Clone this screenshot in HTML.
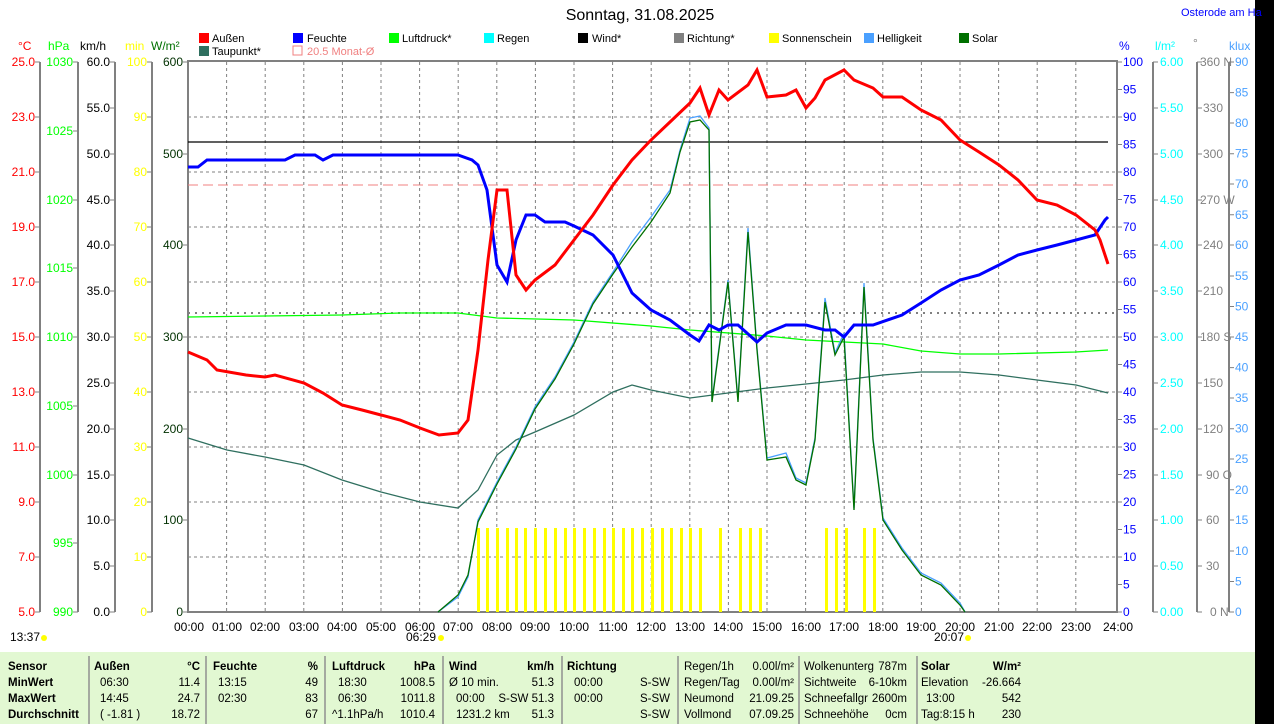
<!DOCTYPE html>
<html><head><meta charset="utf-8"><style>
body{margin:0;width:1274px;height:724px;overflow:hidden;background:#fff;font-family:"Liberation Sans",sans-serif}
svg{position:absolute;left:0;top:0}
text{font-family:"Liberation Sans",sans-serif;font-size:12px}
.tb text{font-size:11.5px}
</style></head><body>
<svg width="1274" height="724" viewBox="0 0 1274 724">
<rect x="1255" y="0" width="19" height="724" fill="#000"/>
<rect x="0" y="652" width="1255" height="72" fill="#e2f8d2"/>
<text x="640" y="20" text-anchor="middle" style="font-size:16px">Sonntag, 31.08.2025</text>
<text x="1181" y="16" fill="#0000ff" style="font-size:11px">Osterode am Ha</text>
<g>
<rect x="199" y="33" width="10" height="10" fill="#f00"/><text x="212" y="42" style="font-size:11px">Außen</text>
<rect x="293" y="33" width="10" height="10" fill="#00f"/><text x="307" y="42" style="font-size:11px">Feuchte</text>
<rect x="389" y="33" width="10" height="10" fill="#0f0"/><text x="402" y="42" style="font-size:11px">Luftdruck*</text>
<rect x="484" y="33" width="10" height="10" fill="#0ff"/><text x="497" y="42" style="font-size:11px">Regen</text>
<rect x="578" y="33" width="10" height="10" fill="#000"/><text x="592" y="42" style="font-size:11px">Wind*</text>
<rect x="674" y="33" width="10" height="10" fill="#808080"/><text x="687" y="42" style="font-size:11px">Richtung*</text>
<rect x="769" y="33" width="10" height="10" fill="#ff0"/><text x="782" y="42" style="font-size:11px">Sonnenschein</text>
<rect x="864" y="33" width="10" height="10" fill="#4aa0ff"/><text x="877" y="42" style="font-size:11px">Helligkeit</text>
<rect x="959" y="33" width="10" height="10" fill="#007000"/><text x="972" y="42" style="font-size:11px">Solar</text>
<rect x="199" y="46" width="10" height="10" fill="#2f6f5f"/><text x="212" y="55" style="font-size:11px">Taupunkt*</text>
<rect x="293" y="46" width="9" height="9" fill="none" stroke="#f08080"/><text x="307" y="55" fill="#f08080" style="font-size:11px">20.5 Monat-Ø</text>
</g>
<text x="18" y="50" fill="#f00">°C</text>
<text x="48" y="50" fill="#0f0">hPa</text>
<text x="80" y="50" fill="#000">km/h</text>
<text x="125" y="50" fill="#ff0">min</text>
<text x="151" y="50" fill="#007000">W/m²</text>
<text x="1119" y="50" fill="#00f">%</text>
<text x="1155" y="50" fill="#0ff">l/m²</text>
<text x="1193" y="47" fill="#808080">°</text>
<text x="1229" y="50" fill="#4aa0ff">klux</text>
<g stroke="#808080" stroke-dasharray="3,3" stroke-width="1">
<line x1="188" y1="117" x2="1116" y2="117"/><line x1="188" y1="172" x2="1116" y2="172"/><line x1="188" y1="227" x2="1116" y2="227"/><line x1="188" y1="282" x2="1116" y2="282"/><line x1="188" y1="337" x2="1116" y2="337"/><line x1="188" y1="392" x2="1116" y2="392"/><line x1="188" y1="447" x2="1116" y2="447"/><line x1="188" y1="502" x2="1116" y2="502"/><line x1="188" y1="557" x2="1116" y2="557"/>
<line x1="226.6" y1="62" x2="226.6" y2="612"/><line x1="265.2" y1="62" x2="265.2" y2="612"/><line x1="303.8" y1="62" x2="303.8" y2="612"/><line x1="342.4" y1="62" x2="342.4" y2="612"/><line x1="381" y1="62" x2="381" y2="612"/><line x1="419.6" y1="62" x2="419.6" y2="612"/><line x1="458.2" y1="62" x2="458.2" y2="612"/><line x1="496.8" y1="62" x2="496.8" y2="612"/><line x1="535.4" y1="62" x2="535.4" y2="612"/><line x1="574" y1="62" x2="574" y2="612"/><line x1="612.6" y1="62" x2="612.6" y2="612"/><line x1="651.2" y1="62" x2="651.2" y2="612"/><line x1="689.8" y1="62" x2="689.8" y2="612"/><line x1="728.4" y1="62" x2="728.4" y2="612"/><line x1="767" y1="62" x2="767" y2="612"/><line x1="805.6" y1="62" x2="805.6" y2="612"/><line x1="844.2" y1="62" x2="844.2" y2="612"/><line x1="882.8" y1="62" x2="882.8" y2="612"/><line x1="921.4" y1="62" x2="921.4" y2="612"/><line x1="960" y1="62" x2="960" y2="612"/><line x1="998.6" y1="62" x2="998.6" y2="612"/><line x1="1037.2" y1="62" x2="1037.2" y2="612"/><line x1="1075.8" y1="62" x2="1075.8" y2="612"/>
</g>
<rect x="188" y="61" width="929" height="551" fill="none" stroke="#808080" stroke-width="2"/>
<g stroke="#808080" stroke-width="2">
<line x1="40" y1="62" x2="40" y2="612"/><line x1="78" y1="62" x2="78" y2="612"/><line x1="115" y1="62" x2="115" y2="612"/><line x1="152" y1="62" x2="152" y2="612"/>
<line x1="1153" y1="62" x2="1153" y2="612"/><line x1="1197" y1="62" x2="1197" y2="612"/><line x1="1229" y1="62" x2="1229" y2="612"/>
</g>
<g fill="#f00" text-anchor="end">
<text x="35" y="66">25.0</text><text x="35" y="121">23.0</text><text x="35" y="176">21.0</text><text x="35" y="231">19.0</text><text x="35" y="286">17.0</text><text x="35" y="341">15.0</text><text x="35" y="396">13.0</text><text x="35" y="451">11.0</text><text x="35" y="506">9.0</text><text x="35" y="561">7.0</text><text x="35" y="616">5.0</text>
</g>
<g stroke="#808080"><path d="M35 62h5M35 117h5M35 172h5M35 227h5M35 282h5M35 337h5M35 392h5M35 447h5M35 502h5M35 557h5M35 612h5 M73 62h5M73 131h5M73 200h5M73 268h5M73 337h5M73 406h5M73 475h5M73 543h5M73 612h5 M110 62h5M110 108h5M110 154h5M110 200h5M110 245h5M110 291h5M110 337h5M110 383h5M110 429h5M110 475h5M110 520h5M110 566h5M110 612h5 M147 62h5M147 117h5M147 172h5M147 227h5M147 282h5M147 337h5M147 392h5M147 447h5M147 502h5M147 557h5M147 612h5 M183 62h5M183 154h5M183 245h5M183 337h5M183 429h5M183 520h5M183 612h5"/></g>
<g fill="#0f0" text-anchor="end">
<text x="73" y="66">1030</text><text x="73" y="135">1025</text><text x="73" y="204">1020</text><text x="73" y="272">1015</text><text x="73" y="341">1010</text><text x="73" y="410">1005</text><text x="73" y="479">1000</text><text x="73" y="547">995</text><text x="73" y="616">990</text>
</g>
<g fill="#000" text-anchor="end">
<text x="110" y="66">60.0</text><text x="110" y="112">55.0</text><text x="110" y="158">50.0</text><text x="110" y="204">45.0</text><text x="110" y="249">40.0</text><text x="110" y="295">35.0</text><text x="110" y="341">30.0</text><text x="110" y="387">25.0</text><text x="110" y="433">20.0</text><text x="110" y="479">15.0</text><text x="110" y="524">10.0</text><text x="110" y="570">5.0</text><text x="110" y="616">0.0</text>
</g>
<g fill="#ff0" text-anchor="end">
<text x="147" y="66">100</text><text x="147" y="121">90</text><text x="147" y="176">80</text><text x="147" y="231">70</text><text x="147" y="286">60</text><text x="147" y="341">50</text><text x="147" y="396">40</text><text x="147" y="451">30</text><text x="147" y="506">20</text><text x="147" y="561">10</text><text x="147" y="616">0</text>
</g>
<g fill="#003000" text-anchor="end">
<text x="183" y="66">600</text><text x="183" y="158">500</text><text x="183" y="249">400</text><text x="183" y="341">300</text><text x="183" y="433">200</text><text x="183" y="524">100</text><text x="183" y="616">0</text>
</g>
<g stroke="#808080"><path d="M1117 62h5M1117 89.5h5M1117 117h5M1117 144.5h5M1117 172h5M1117 199.5h5M1117 227h5M1117 254.5h5M1117 282h5M1117 309.5h5M1117 337h5M1117 364.5h5M1117 392h5M1117 419.5h5M1117 447h5M1117 474.5h5M1117 502h5M1117 529.5h5M1117 557h5M1117 584.5h5M1117 612h5
M1153 62h5M1153 108h5M1153 154h5M1153 200h5M1153 245h5M1153 291h5M1153 337h5M1153 383h5M1153 429h5M1153 475h5M1153 520h5M1153 566h5M1153 612h5
M1197 62h5M1197 108h5M1197 154h5M1197 200h5M1197 245h5M1197 291h5M1197 337h5M1197 383h5M1197 429h5M1197 475h5M1197 520h5M1197 566h5M1197 612h5
M1229 62h5M1229 92.6h5M1229 123h5M1229 153.7h5M1229 184h5M1229 214.8h5M1229 245h5M1229 276h5M1229 306.5h5M1229 337h5M1229 367.6h5M1229 398h5M1229 428.7h5M1229 459h5M1229 489.8h5M1229 520h5M1229 551h5M1229 581.5h5M1229 612h5"/></g>
<g fill="#00f">
<text x="1123" y="66">100</text><text x="1123" y="93.5">95</text><text x="1123" y="121">90</text><text x="1123" y="148.5">85</text><text x="1123" y="176">80</text><text x="1123" y="203.5">75</text><text x="1123" y="231">70</text><text x="1123" y="258.5">65</text><text x="1123" y="286">60</text><text x="1123" y="313.5">55</text><text x="1123" y="341">50</text><text x="1123" y="368.5">45</text><text x="1123" y="396">40</text><text x="1123" y="423.5">35</text><text x="1123" y="451">30</text><text x="1123" y="478.5">25</text><text x="1123" y="506">20</text><text x="1123" y="533.5">15</text><text x="1123" y="561">10</text><text x="1123" y="588.5">5</text><text x="1123" y="616">0</text>
</g>
<g fill="#0ff">
<text x="1160" y="66">6.00</text><text x="1160" y="112">5.50</text><text x="1160" y="158">5.00</text><text x="1160" y="204">4.50</text><text x="1160" y="249">4.00</text><text x="1160" y="295">3.50</text><text x="1160" y="341">3.00</text><text x="1160" y="387">2.50</text><text x="1160" y="433">2.00</text><text x="1160" y="479">1.50</text><text x="1160" y="524">1.00</text><text x="1160" y="570">0.50</text><text x="1160" y="616">0.00</text>
</g>
<g fill="#808080">
<text x="1200" y="66">360 N</text><text x="1203" y="112">330</text><text x="1203" y="158">300</text><text x="1200" y="204">270 W</text><text x="1203" y="249">240</text><text x="1203" y="295">210</text><text x="1200" y="341">180 S</text><text x="1203" y="387">150</text><text x="1203" y="433">120</text><text x="1206" y="479">90 O</text><text x="1206" y="524">60</text><text x="1206" y="570">30</text><text x="1210" y="616">0 N</text>
</g>
<g fill="#4aa0ff">
<text x="1235" y="66">90</text><text x="1235" y="96.6">85</text><text x="1235" y="127">80</text><text x="1235" y="157.7">75</text><text x="1235" y="188">70</text><text x="1235" y="218.8">65</text><text x="1235" y="249">60</text><text x="1235" y="280">55</text><text x="1235" y="310.5">50</text><text x="1235" y="341">45</text><text x="1235" y="371.6">40</text><text x="1235" y="402">35</text><text x="1235" y="432.7">30</text><text x="1235" y="463">25</text><text x="1235" y="493.8">20</text><text x="1235" y="524">15</text><text x="1235" y="555">10</text><text x="1235" y="585.5">5</text><text x="1235" y="616">0</text>
</g>
<line x1="188" y1="142" x2="1108" y2="142" stroke="#000" stroke-width="1.2"/>
<line x1="188" y1="185" x2="1116" y2="185" stroke="#f08080" stroke-dasharray="10,5"/>
<line x1="188" y1="313" x2="1116" y2="313" stroke="#808080" stroke-dasharray="2,5" stroke-width="2"/>
<g fill="#ff0">
<rect x="477" y="528" width="3" height="84"/><rect x="486" y="528" width="3" height="84"/><rect x="496" y="528" width="3" height="84"/><rect x="506" y="528" width="3" height="84"/><rect x="515" y="528" width="3" height="84"/><rect x="524" y="528" width="3" height="84"/><rect x="534" y="528" width="3" height="84"/><rect x="544" y="528" width="3" height="84"/><rect x="554" y="528" width="3" height="84"/><rect x="564" y="528" width="3" height="84"/><rect x="573" y="528" width="3" height="84"/><rect x="583" y="528" width="3" height="84"/><rect x="593" y="528" width="3" height="84"/><rect x="603" y="528" width="3" height="84"/><rect x="612" y="528" width="3" height="84"/><rect x="622" y="528" width="3" height="84"/><rect x="631" y="528" width="3" height="84"/><rect x="641" y="528" width="3" height="84"/><rect x="651" y="528" width="3" height="84"/><rect x="661" y="528" width="3" height="84"/><rect x="670" y="528" width="3" height="84"/><rect x="680" y="528" width="3" height="84"/><rect x="689" y="528" width="3" height="84"/><rect x="699" y="528" width="3" height="84"/><rect x="719" y="528" width="3" height="84"/><rect x="739" y="528" width="3" height="84"/><rect x="749" y="528" width="3" height="84"/><rect x="759" y="528" width="3" height="84"/><rect x="825" y="528" width="3" height="84"/><rect x="835" y="528" width="3" height="84"/><rect x="845" y="528" width="3" height="84"/><rect x="863" y="528" width="3" height="84"/><rect x="873" y="528" width="3" height="84"/>
</g>
<polyline fill="none" stroke="#0f0" stroke-width="1.3" points="188,317 265,316 342,315 400,313 458,313 497,318 574,320 651,326 690,330 767,336 806,340 883,344 921,351 960,354 999,354 1076,352 1108,350"/>
<polyline fill="none" stroke="#2f6f5f" stroke-width="1.3" points="188,438 227,450 265,457 304,465 342,480 381,492 420,502 458,508 478,490 497,455 516,440 535,432 574,415 613,392 632,385 651,390 690,398 728,393 767,388 806,384 844,380 883,375 921,372 960,372 999,375 1037,380 1076,385 1108,393"/>
<polyline fill="none" stroke="#4aa0ff" stroke-width="1.3" points="438,612 458,597 468,577 478,520 497,482 516,447 535,407 555,377 574,342 593,302 613,272 632,242 651,217 670,190 680,150 690,118 700,116 709,128 712,400 728,280 738,400 748,228 757,348 767,458 786,453 796,478 806,483 815,438 825,298 835,353 844,333 854,508 864,283 873,438 883,518 902,548 921,573 941,583 960,603 965,612"/>
<polyline fill="none" stroke="#007000" stroke-width="1.3" points="438,612 458,595 468,575 478,522 497,484 516,449 535,409 555,379 574,344 593,304 613,274 632,247 651,222 670,193 680,152 690,122 700,120 709,130 712,402 728,282 738,402 748,232 757,350 767,460 786,457 796,480 806,485 815,440 825,302 835,355 844,337 854,510 864,287 873,440 883,520 902,550 921,575 941,585 960,605 965,612"/>
<polyline fill="none" stroke="#00f" stroke-width="3" points="188,167 198,167 207,160 265,160 285,160 295,155 315,155 323,160 333,155 458,155 472,160 478,165 487,190 497,265 507,282 516,240 526,215 535,215 545,222 565,222 574,226 593,235 613,255 632,293 651,310 670,320 690,335 699,341 709,325 719,330 728,325 738,325 757,342 767,333 786,325 806,325 825,330 835,330 844,337 854,325 873,325 902,315 921,303 941,290 960,280 979,275 999,265 1018,255 1037,250 1057,245 1076,240 1095,235 1105,220 1108,217"/>
<polyline fill="none" stroke="#f00" stroke-width="3" points="188,352 207,360 217,370 246,375 265,377 275,375 304,383 323,393 342,405 362,410 381,415 400,420 420,428 439,435 458,433 468,420 478,350 488,260 497,190 507,190 516,275 526,290 535,280 555,265 574,240 593,215 613,185 632,160 651,140 670,122 690,103 700,88 709,115 719,90 728,100 748,85 757,70 767,97 786,95 796,90 806,108 815,98 825,80 844,70 854,80 873,88 883,97 902,97 921,110 941,120 960,140 979,152 999,165 1018,180 1037,200 1057,205 1076,215 1095,230 1100,240 1108,264"/>
<g fill="#000" text-anchor="middle">
<text x="189" y="631">00:00</text><text x="227" y="631">01:00</text><text x="265" y="631">02:00</text><text x="304" y="631">03:00</text><text x="342" y="631">04:00</text><text x="381" y="631">05:00</text><text x="420" y="631">06:00</text><text x="458" y="631">07:00</text><text x="497" y="631">08:00</text><text x="535" y="631">09:00</text><text x="574" y="631">10:00</text><text x="613" y="631">11:00</text><text x="651" y="631">12:00</text><text x="690" y="631">13:00</text><text x="728" y="631">14:00</text><text x="767" y="631">15:00</text><text x="806" y="631">16:00</text><text x="844" y="631">17:00</text><text x="883" y="631">18:00</text><text x="921" y="631">19:00</text><text x="960" y="631">20:00</text><text x="999" y="631">21:00</text><text x="1037" y="631">22:00</text><text x="1076" y="631">23:00</text><text x="1118" y="631">24:00</text>
</g>
<text x="10" y="641">13:37</text><circle cx="44" cy="638" r="3" fill="#ff0"/>
<text x="406" y="641">06:29</text><circle cx="441" cy="638" r="3" fill="#ff0"/>
<text x="934" y="641">20:07</text><circle cx="968" cy="638" r="3" fill="#ff0"/>
<g stroke="#909090" stroke-width="1.5">
<line x1="89" y1="656" x2="89" y2="724"/><line x1="206" y1="656" x2="206" y2="724"/><line x1="325" y1="656" x2="325" y2="724"/><line x1="443" y1="656" x2="443" y2="724"/><line x1="562" y1="656" x2="562" y2="724"/><line x1="678" y1="656" x2="678" y2="724"/><line x1="799" y1="656" x2="799" y2="724"/><line x1="917" y1="656" x2="917" y2="724"/>
</g>
<g class="tb" font-weight="bold">
<text x="8" y="670">Sensor</text><text x="8" y="686">MinWert</text><text x="8" y="702">MaxWert</text><text x="8" y="718">Durchschnitt</text>
<text x="94" y="670">Außen</text><text x="200" y="670" text-anchor="end">°C</text>
<text x="213" y="670">Feuchte</text><text x="318" y="670" text-anchor="end">%</text>
<text x="332" y="670">Luftdruck</text><text x="435" y="670" text-anchor="end">hPa</text>
<text x="449" y="670">Wind</text><text x="554" y="670" text-anchor="end">km/h</text>
<text x="567" y="670">Richtung</text>
<text x="921" y="670">Solar</text><text x="1021" y="670" text-anchor="end">W/m²</text>
</g>
<g class="tb">
<text x="100" y="686">06:30</text><text x="200" y="686" text-anchor="end">11.4</text>
<text x="100" y="702">14:45</text><text x="200" y="702" text-anchor="end">24.7</text>
<text x="100" y="718">( -1.81 )</text><text x="200" y="718" text-anchor="end">18.72</text>
<text x="218" y="686">13:15</text><text x="318" y="686" text-anchor="end">49</text>
<text x="218" y="702">02:30</text><text x="318" y="702" text-anchor="end">83</text>
<text x="318" y="718" text-anchor="end">67</text>
<text x="338" y="686">18:30</text><text x="435" y="686" text-anchor="end">1008.5</text>
<text x="338" y="702">06:30</text><text x="435" y="702" text-anchor="end">1011.8</text>
<text x="332" y="718">^1.1hPa/h</text><text x="435" y="718" text-anchor="end">1010.4</text>
<text x="449" y="686">Ø 10 min.</text><text x="554" y="686" text-anchor="end">51.3</text>
<text x="456" y="702">00:00</text><text x="554" y="702" text-anchor="end">S-SW 51.3</text>
<text x="456" y="718">1231.2 km</text><text x="554" y="718" text-anchor="end">51.3</text>
<text x="574" y="686">00:00</text><text x="670" y="686" text-anchor="end">S-SW</text>
<text x="574" y="702">00:00</text><text x="670" y="702" text-anchor="end">S-SW</text>
<text x="670" y="718" text-anchor="end">S-SW</text>
<text x="684" y="670">Regen/1h</text><text x="794" y="670" text-anchor="end">0.00l/m²</text>
<text x="684" y="686">Regen/Tag</text><text x="794" y="686" text-anchor="end">0.00l/m²</text>
<text x="684" y="702">Neumond</text><text x="794" y="702" text-anchor="end">21.09.25</text>
<text x="684" y="718">Vollmond</text><text x="794" y="718" text-anchor="end">07.09.25</text>
<text x="804" y="670" textLength="70" lengthAdjust="spacingAndGlyphs">Wolkenunterg</text><text x="907" y="670" text-anchor="end">787m</text>
<text x="804" y="686">Sichtweite</text><text x="907" y="686" text-anchor="end">6-10km</text>
<text x="804" y="702" textLength="64" lengthAdjust="spacingAndGlyphs">Schneefallgr</text><text x="907" y="702" text-anchor="end">2600m</text>
<text x="804" y="718">Schneehöhe</text><text x="907" y="718" text-anchor="end">0cm</text>
<text x="921" y="686">Elevation</text><text x="1021" y="686" text-anchor="end">-26.664</text>
<text x="926" y="702">13:00</text><text x="1021" y="702" text-anchor="end">542</text>
<text x="921" y="718">Tag:8:15 h</text><text x="1021" y="718" text-anchor="end">230</text>
</g>
</svg>
</body></html>
